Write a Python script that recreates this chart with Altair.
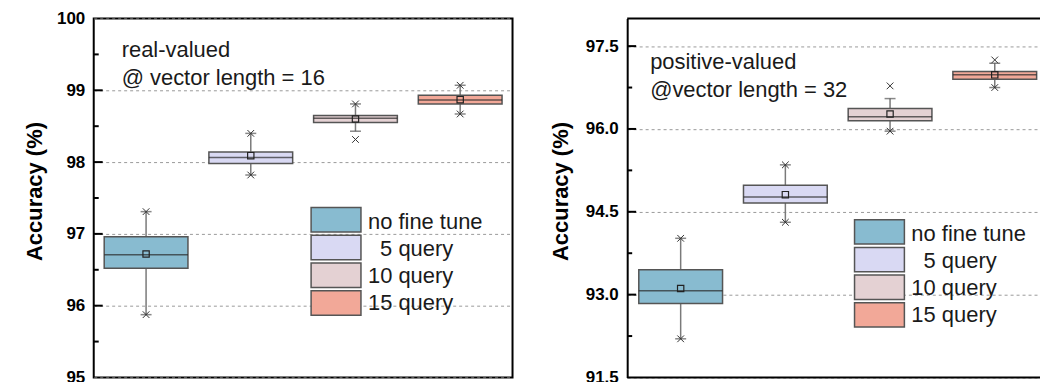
import altair as alt
import pandas as pd

FONT = "Liberation Sans"

categories = ["no fine tune", "5 query", "10 query", "15 query"]
legend_labels = ["no fine tune", "\u200b\u00a0\u00a05 query", "10 query", "15 query"]
colors = ["#88bbd0", "#d9d9f3", "#e4d1d3", "#f2a898"]

# ---- left panel: real-valued @ vector length = 16
left_q1 = [96.52, 97.98, 98.55, 98.81]
left_q3 = [96.96, 98.14, 98.65, 98.93]
left_median = [96.71, 98.065, 98.61, 98.865]
left_mean = [96.72, 98.09, 98.60, 98.87]
left_whisker_lo = [95.875, 97.82, 98.43, 98.67]
left_whisker_hi = [97.31, 98.40, 98.81, 99.07]
left_min = [95.875, 97.82, 98.315, 98.67]
left_max = [97.31, 98.40, 98.81, 99.07]
left_axis_values = [95, 96, 97, 98, 99, 100]
left_major_ticks = [96, 97, 98, 99]
left_minor_ticks = [95.5, 96.5, 97.5, 98.5, 99.5]
left_domain = [95, 100]
left_note = "real-valued\n@ vector length = 16"

# ---- right panel: positive-valued @vector length = 32
right_q1 = [92.84, 94.66, 96.15, 96.90]
right_q3 = [93.45, 94.98, 96.37, 97.04]
right_median = [93.07, 94.77, 96.22, 96.98]
right_mean = [93.11, 94.81, 96.27, 96.98]
right_whisker_lo = [92.20, 94.31, 95.96, 96.75]
right_whisker_hi = [94.02, 95.35, 96.55, 97.19]
right_min = [92.20, 94.31, 95.96, 96.75]
right_max = [94.02, 95.35, 96.78, 97.25]
right_axis_values = [91.5, 93.0, 94.5, 96.0, 97.5]
right_major_ticks = [93.0, 94.5, 96.0, 97.5]
right_minor_ticks = [92.25, 93.75, 95.25, 96.75]
right_domain = [91.5, 98.0]
right_note = "positive-valued\n@vector length = 32"

H = 360
XSHAPE = "M-1,-1L1,1M-1,1L1,-1"


def panel(q1, q3, med, mean, wlo, whi, mn, mx, axis_values, major, minor,
          domain, fmt, note, width, pad_outer, align, note_x, note_y,
          leg_range, leg_x0, leg_text_x, framed, title_pad):
    df = pd.DataFrame({"cat": categories, "q1": q1, "q3": q3, "med": med,
                       "mean": mean, "wlo": wlo, "whi": whi})
    ends = pd.DataFrame({"cat": categories * 2, "v": wlo + whi})
    marks = pd.DataFrame({"cat": categories * 2, "v": mn + mx})

    xenc = alt.X("cat:N", sort=categories,
                 scale=alt.Scale(domain=categories, paddingInner=0.2,
                                 paddingOuter=pad_outer, align=align),
                 axis=None)

    def ysc():
        return alt.Scale(domain=domain, nice=False, zero=False)

    color = alt.Color("cat:N", scale=alt.Scale(domain=categories, range=colors),
                      legend=None)

    yaxis = alt.Axis(values=axis_values, format=fmt, grid=True,
                     gridDash=[3, 3], gridColor="#9a9a9a", gridWidth=1,
                     ticks=False, tickSize=0, domain=not framed,
                     domainColor="black", domainWidth=2,
                     labelFont=FONT, labelFontWeight="bold", labelFontSize=17,
                     labelColor="black", labelPadding=9,
                     title="Accuracy (%)", titleFont=FONT,
                     titleFontWeight="bold", titleFontSize=22,
                     titleColor="black", titlePadding=title_pad, titleY=173,
                     orient="left")

    base = alt.Chart(df)
    whisker = base.mark_rule(color="#7a7a7a", strokeWidth=1.5).encode(
        x=xenc, y=alt.Y("wlo:Q", scale=ysc(), axis=yaxis), y2="whi:Q")
    caps = alt.Chart(ends).mark_tick(color="#555555", thickness=1.5, size=11,
                                     orient="horizontal").encode(
        x=xenc, y=alt.Y("v:Q", scale=ysc(), axis=None))
    box = base.mark_bar(stroke="#555555", strokeWidth=1.5, opacity=1).encode(
        x=xenc, y=alt.Y("q1:Q", scale=ysc(), axis=None), y2="q3:Q", color=color)
    median = base.mark_tick(color="#2a2a2a", thickness=1.5, size=84,
                            orient="horizontal").encode(
        x=xenc, y=alt.Y("med:Q", scale=ysc(), axis=None))
    meanpt = base.mark_point(shape="square", filled=False, size=40,
                             color="#222222", strokeWidth=1.2, opacity=1).encode(
        x=xenc, y=alt.Y("mean:Q", scale=ysc(), axis=None))
    xmarks = alt.Chart(marks).mark_point(shape=XSHAPE, filled=False, size=45,
                                         color="#333333", strokeWidth=1,
                                         opacity=1).encode(
        x=xenc, y=alt.Y("v:Q", scale=ysc(), axis=None))
    tmaj = alt.Chart(pd.DataFrame({"v": major})).mark_rule(
        color="black", strokeWidth=2).encode(
        y=alt.Y("v:Q", scale=ysc(), axis=None), x=alt.value(0), x2=alt.value(9))
    tmin = alt.Chart(pd.DataFrame({"v": minor})).mark_rule(
        color="black", strokeWidth=2).encode(
        y=alt.Y("v:Q", scale=ysc(), axis=None), x=alt.value(0), x2=alt.value(5))
    ann = alt.Chart(pd.DataFrame({"t": [note]})).mark_text(
        align="left", baseline="alphabetic", font=FONT, fontSize=22,
        lineBreak="\n", lineHeight=28, color="#1a1a1a").encode(
        text="t:N", x=alt.value(note_x), y=alt.value(note_y))

    ldf = pd.DataFrame({"label": legend_labels, "cat": categories})
    ly = alt.Y("label:N", sort=legend_labels,
               scale=alt.Scale(domain=legend_labels, range=leg_range,
                               paddingInner=0.12, paddingOuter=0),
               axis=None)
    lrect = alt.Chart(ldf).mark_rect(stroke="#555555", strokeWidth=1.5).encode(
        y=ly, x=alt.value(leg_x0), x2=alt.value(leg_x0 + 50), color=color)
    ltext = alt.Chart(ldf).mark_text(align="left", baseline="middle",
                                     font=FONT, fontSize=22, color="#1a1a1a",
                                     dy=1).encode(
        y=ly, x=alt.value(leg_text_x), text="label:N")

    layers = [whisker, tmaj, tmin, caps, box, median, meanpt, xmarks, ann,
              lrect, ltext]
    if not framed:
        layers.append(alt.Chart(pd.DataFrame({"a": [0]})).mark_rule(
            color="black", strokeWidth=2).encode(
            y=alt.value(0), x=alt.value(0), x2=alt.value(width + 1)))
        layers.append(alt.Chart(pd.DataFrame({"a": [0]})).mark_rule(
            color="black", strokeWidth=2).encode(
            y=alt.value(H), x=alt.value(0), x2=alt.value(width + 1)))

    view = (alt.ViewBackground(stroke="black", strokeWidth=2) if framed
            else alt.ViewBackground(strokeOpacity=0))
    return alt.layer(*layers).resolve_scale(y="independent").properties(
        width=width, height=H, view=view)


left = panel(left_q1, left_q3, left_median, left_mean, left_whisker_lo,
             left_whisker_hi, left_min, left_max, left_axis_values,
             left_major_ticks, left_minor_ticks, left_domain, "d", left_note,
             420, 0.1, 0.5, 28, 39, [189.5, 297.5], 218, 275, True, 10)
right = panel(right_q1, right_q3, right_median, right_mean, right_whisker_lo,
              right_whisker_hi, right_min, right_max, right_axis_values,
              right_major_ticks, right_minor_ticks, right_domain, ".1f",
              right_note, 413, 0.0667, 0.83, 23, 50.5, [201.8, 309.5], 228,
              285, False, 13)

chart = alt.hconcat(left, right, spacing=115, bounds="flush").properties(
    padding={"left": 22, "top": 8, "right": 0, "bottom": 0}
).configure(font=FONT)

chart.save("out.html", embed_options={"renderer": "svg", "actions": False})
